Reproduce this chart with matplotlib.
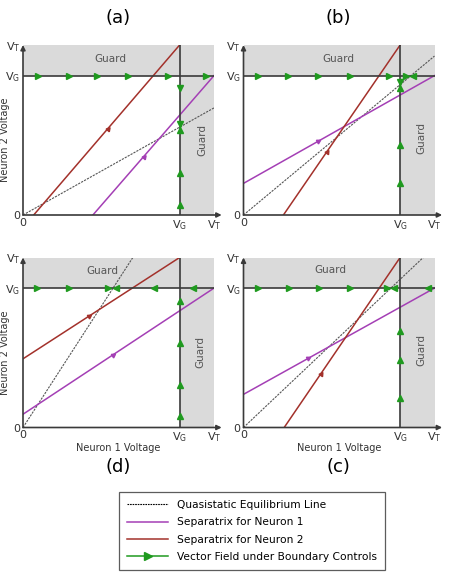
import numpy as np
import matplotlib
matplotlib.use("Agg")
import matplotlib.pyplot as plt
from matplotlib.lines import Line2D
from matplotlib.patches import Polygon

plt.rcParams.update({
    'font.family': 'DejaVu Sans',
    'font.size': 7,
    'mathtext.default': 'regular',
})

# guard voltage relative to V_T = 1
VG = 0.82

# --- panel (a) ---
quasi_a = [(0.0, 0.0), (1.0, 0.63)]
sep1_a = [(0.366, 0.0), (1.0, 0.82)]
sep2_a = [(0.056, 0.0), (0.82, 1.0)]
sep_arrows_a = [0.631, 0.443]          # x of arrowheads on sep1, sep2
hx_a = [0.08, 0.24, 0.39, 0.55, 0.76, 0.96]
hdir_a = ['>', '>', '>', '>', '>', '>']
vy_a = [0.745, 0.533, 0.50, 0.245, 0.059]
vdir_a = ['v', 'v', '^', '^', '^']

# --- panel (b) ---
quasi_b = [(0.0, 0.0), (1.0, 0.935)]
sep1_b = [(0.0, 0.186), (1.0, 0.82)]
sep2_b = [(0.209, 0.0), (0.82, 1.0)]
sep_arrows_b = [0.39, 0.435]
hx_b = [0.075, 0.235, 0.388, 0.557, 0.76, 0.852, 0.887]
hdir_b = ['>', '>', '>', '>', '>', '>', '<']
vy_b = [0.784, 0.745, 0.41, 0.186]
vdir_b = ['v', '^', '^', '^']

# --- panel (d) ---
quasi_d = [(0.0, 0.0), (0.575, 1.0)]
sep1_d = [(0.0, 0.078), (1.0, 0.82)]
sep2_d = [(0.0, 0.404), (0.82, 1.0)]
sep_arrows_d = [0.469, 0.343]
hx_d = [0.073, 0.239, 0.443, 0.486, 0.686, 0.892]
hdir_d = ['>', '>', '>', '<', '<', '<']
vy_d = [0.745, 0.496, 0.251, 0.065]
vdir_d = ['^', '^', '^', '^']

# --- panel (c) ---
quasi_c = [(0.0, 0.0), (0.941, 1.0)]
sep1_c = [(0.0, 0.195), (1.0, 0.82)]
sep2_c = [(0.213, 0.0), (0.82, 1.0)]
sep_arrows_c = [0.338, 0.404]
hx_c = [0.078, 0.237, 0.393, 0.56, 0.749, 0.789, 0.965]
hdir_c = ['>', '>', '>', '>', '>', '<', '<']
vy_c = [0.565, 0.396, 0.175]
vdir_c = ['^', '^', '^']

# guard label positions (top, right)
guard_a = [(0.457, 0.92), (0.937, 0.44)]
guard_b = [(0.496, 0.92), (0.93, 0.45)]
guard_d = [(0.418, 0.918), (0.927, 0.447)]
guard_c = [(0.456, 0.926), (0.932, 0.454)]

RED = '#a3312b'
PURPLE = '#a43fb5'
GREEN = '#1f9a1f'
GRAY_FILL = '#dadada'
AXC = '#3a3a3a'

fig = plt.figure(figsize=(4.49, 5.75), dpi=100)

W, H = 449.0, 575.0
panels = [
    ('(a)', (23, 215), quasi_a, sep1_a, sep2_a, sep_arrows_a, hx_a, hdir_a, vy_a, vdir_a, guard_a, True, False),
    ('(b)', (243.5, 215), quasi_b, sep1_b, sep2_b, sep_arrows_b, hx_b, hdir_b, vy_b, vdir_b, guard_b, False, False),
    ('(d)', (23, 427.5), quasi_d, sep1_d, sep2_d, sep_arrows_d, hx_d, hdir_d, vy_d, vdir_d, guard_d, True, True),
    ('(c)', (243.5, 427.5), quasi_c, sep1_c, sep2_c, sep_arrows_c, hx_c, hdir_c, vy_c, vdir_c, guard_c, False, True),
]


def seg_arrow(ax, seg, xpos, color):
    (x0, y0), (x1, y1) = seg
    y = np.interp(xpos, [x0, x1], [y0, y1])
    ang = np.degrees(np.arctan2((y1 - y0) * 170, (x1 - x0) * 191))
    ax.plot([xpos], [y], marker=(3, 0, ang - 90), color=color, ms=3.5,
            linestyle='none', zorder=4)


for (title, (ox, oy), quasi, sep1, sep2, sarr, hx, hdir, vy, vdir,
     guards, left, bottom) in panels:
    ax = fig.add_axes([ox / W, 1 - oy / H, 191 / W, 170 / H])
    ax.set_xlim(0, 1)
    ax.set_ylim(0, 1)
    for s in ax.spines.values():
        s.set_visible(False)

    # guard region
    poly = Polygon([(0, VG), (0, 1), (1, 1), (1, 0), (VG, 0), (VG, VG)],
                   closed=True, facecolor=GRAY_FILL, edgecolor='none', zorder=0)
    ax.add_patch(poly)

    # lines
    ax.plot(*zip(*quasi), color='#555555', lw=0.8, linestyle=(0, (2, 1)), zorder=2)
    ax.plot(*zip(*sep1), color=PURPLE, lw=1.1, zorder=3)
    ax.plot(*zip(*sep2), color=RED, lw=1.1, zorder=3)
    seg_arrow(ax, sep1, sarr[0], PURPLE)
    seg_arrow(ax, sep2, sarr[1], RED)

    # boundary control lines
    ax.plot([0, 1], [VG, VG], color=AXC, lw=1.2, zorder=5)
    ax.plot([VG, VG], [0, 1], color=AXC, lw=1.2, zorder=5)

    # vector field arrows
    for x, d in zip(hx, hdir):
        ax.plot([x], [VG], marker=d, color=GREEN, ms=4, linestyle='none', zorder=6)
    for y, d in zip(vy, vdir):
        ax.plot([VG], [y], marker=d, color=GREEN, ms=4, linestyle='none', zorder=6)

    # axes with arrowheads
    ax.annotate('', xy=(1.04, 0), xytext=(0, 0), annotation_clip=False,
                arrowprops=dict(arrowstyle='-|>', color=AXC, lw=1.2, mutation_scale=7,
                                shrinkA=0, shrinkB=0), zorder=7)
    ax.annotate('', xy=(0, 1.0), xytext=(0, 0), annotation_clip=False,
                arrowprops=dict(arrowstyle='-|>', color=AXC, lw=1.2, mutation_scale=7,
                                shrinkA=0, shrinkB=0), zorder=7)

    # guard labels
    (tx, ty), (rx, ry) = guards
    ax.text(tx, ty, 'Guard', ha='center', va='center', color='#555555', fontsize=7.5)
    ax.text(rx, ry, 'Guard', ha='center', va='center', color='#555555', fontsize=7.5,
            rotation=90)

    ax.set_xticks([0, VG, 1], ['0', r'V$_G$', r'V$_T$'])
    ax.set_yticks([0, VG, 1], ['0', r'V$_G$', r'V$_T$'])
    ax.tick_params(length=0, labelsize=8, pad=2, colors='#333333')

    if left:
        ax.set_ylabel('Neuron 2 Voltage', fontsize=7, color='#333333')
        ax.yaxis.set_label_coords(-0.068, 0.44)
    if bottom:
        ax.set_xlabel('Neuron 1 Voltage', fontsize=7, color='#333333', labelpad=-1)

    ty_px = oy - 197 if not bottom else oy + 40
    fig.text((ox + 95) / W, 1 - ty_px / H, title, ha='center', va='center', fontsize=13)

handles = [
    Line2D([], [], color='black', lw=0.8, linestyle=(0, (1.5, 0.8))),
    Line2D([], [], color=PURPLE, lw=1.1),
    Line2D([], [], color=RED, lw=1.1),
    Line2D([], [], color=GREEN, lw=1.1, marker='>', ms=6),
]
labels = ['Quasistatic Equilibrium Line', 'Separatrix for Neuron 1',
          'Separatrix for Neuron 2', 'Vector Field under Boundary Controls']
leg = fig.legend(handles, labels, loc='center', bbox_to_anchor=(252 / W, 1 - 531 / H),
                 fontsize=7.7, frameon=True, fancybox=False, edgecolor='#333333',
                 handlelength=3.8, labelspacing=0.7, borderpad=0.75, numpoints=1)
leg.get_frame().set_linewidth(0.9)

fig.savefig('out.png', dpi=100)
